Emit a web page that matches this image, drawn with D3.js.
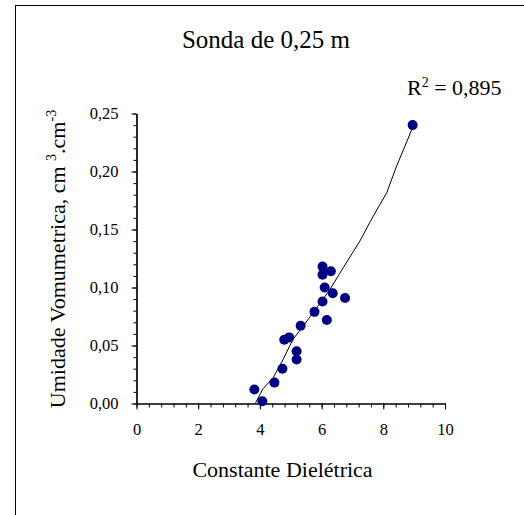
<!DOCTYPE html>
<html>
<head>
<meta charset="utf-8">
<script src="https://cdn.jsdelivr.net/npm/d3@7"></script>
<style>
  html, body { margin: 0; padding: 0; background: #fff; }
  svg { display: block; }
  text { font-family: "Liberation Serif", "Times New Roman", serif; fill: #000; }
</style>
</head>
<body>
<svg id="chart" width="524" height="515"></svg>
<script>
// ---- data ----
const title = "Sonda de 0,25 m";
const xTitle = "Constante Dielétrica";
const r2Label = "0,895";
const dielectric = [8.95, 6.03, 6.30, 6.03, 6.10, 6.36, 6.76, 6.03, 5.77, 6.17, 5.32, 4.95, 4.79, 5.19, 5.19, 4.73, 4.47, 3.82, 4.08];
const moisture   = [0.240, 0.118, 0.114, 0.111, 0.100, 0.095, 0.091, 0.088, 0.079, 0.072, 0.067, 0.057, 0.055, 0.045, 0.038, 0.030, 0.018, 0.012, 0.002];
// trendline
const trendX = [3.86, 4.10, 4.43, 4.75, 5.07, 5.40, 5.72, 6.00, 6.27, 6.70, 7.24, 7.56, 7.89, 8.11, 8.43, 8.70, 8.92];
const trendY = [0.0006, 0.0127, 0.0222, 0.0379, 0.0552, 0.0666, 0.0782, 0.0882, 0.0983, 0.117, 0.140, 0.156, 0.1715, 0.1816, 0.2046, 0.2218, 0.236];
const xMajorTicks = [0, 2, 4, 6, 8, 10];
const yMajorTicks = [0, 0.05, 0.10, 0.15, 0.20, 0.25];

const svg = d3.select("#chart");

// outer frame
svg.append("rect")
  .attr("x", 15.5).attr("y", 5.5)
  .attr("width", 540).attr("height", 540)
  .attr("fill", "none").attr("stroke", "#000").attr("stroke-width", 1);

const x = d3.scaleLinear().domain([0, 10]).range([136.5, 445]);
const y = d3.scaleLinear().domain([0, 0.25]).range([403.5, 113.5]);

const fmtY = d => d3.format(".2f")(d).replace(".", ",");

// minor ticks
const xMinor = d3.range(0, 10.001, 0.4).map(v => +v.toFixed(2));
const yMinor = d3.range(0, 0.2501, 0.01).map(v => +v.toFixed(3));

svg.append("g").attr("transform", "translate(0,403.5)")
  .call(d3.axisBottom(x).tickValues(xMinor).tickSize(4).tickSizeOuter(0).tickFormat(""));
svg.append("g").attr("transform", "translate(136.5,0)")
  .call(d3.axisLeft(y).tickValues(yMinor).tickSize(3).tickSizeOuter(0).tickFormat(""));

svg.append("g").attr("transform", "translate(0,403.5)")
  .call(d3.axisBottom(x).tickValues(xMajorTicks).tickSize(6).tickSizeOuter(0).tickPadding(13.6).tickFormat(d3.format("d")));
svg.append("g").attr("transform", "translate(136.5,0)")
  .call(d3.axisLeft(y).tickValues(yMajorTicks).tickSize(5).tickSizeOuter(0).tickPadding(13).tickFormat(fmtY));

svg.selectAll(".domain").attr("stroke", "#000").attr("stroke-width", 1.2);
svg.selectAll(".tick line").attr("stroke", "#000");
svg.selectAll(".tick text")
  .attr("font-family", "Liberation Serif, Times New Roman, serif")
  .attr("font-size", 16.5).attr("fill", "#000");

// trendline
const line = d3.line().x((d, i) => x(trendX[i])).y((d, i) => y(trendY[i]));
svg.append("path")
  .datum(trendX)
  .attr("d", line)
  .attr("fill", "none").attr("stroke", "#000").attr("stroke-width", 1);

// points
svg.append("g").selectAll("circle")
  .data(dielectric)
  .join("circle")
  .attr("cx", d => x(d))
  .attr("cy", (d, i) => y(moisture[i]))
  .attr("r", 5)
  .attr("fill", "#000080");

// title
svg.append("text")
  .attr("x", 266).attr("y", 48)
  .attr("text-anchor", "middle")
  .attr("font-size", 25)
  .text(title);

// R^2
const r2 = svg.append("text")
  .attr("x", 407).attr("y", 95)
  .attr("font-size", 22);
r2.append("tspan").text("R");
r2.append("tspan").attr("font-size", 14).attr("dy", -8).text("2");
r2.append("tspan").attr("dy", 8).text(" = " + r2Label);

// x axis title
svg.append("text")
  .attr("x", 282.5).attr("y", 477)
  .attr("text-anchor", "middle")
  .attr("font-size", 22)
  .text(xTitle);

// y axis title
const yt = svg.append("text")
  .attr("transform", "translate(65,259) rotate(-90)")
  .attr("text-anchor", "middle")
  .attr("font-size", 22);
yt.append("tspan").text("Umidade Vomumetrica, cm ");
yt.append("tspan").attr("font-size", 14).attr("dy", -9).text("3");
yt.append("tspan").attr("dy", 9).text(".cm");
yt.append("tspan").attr("font-size", 14).attr("dy", -9).text("-3");
</script>
</body>
</html>
